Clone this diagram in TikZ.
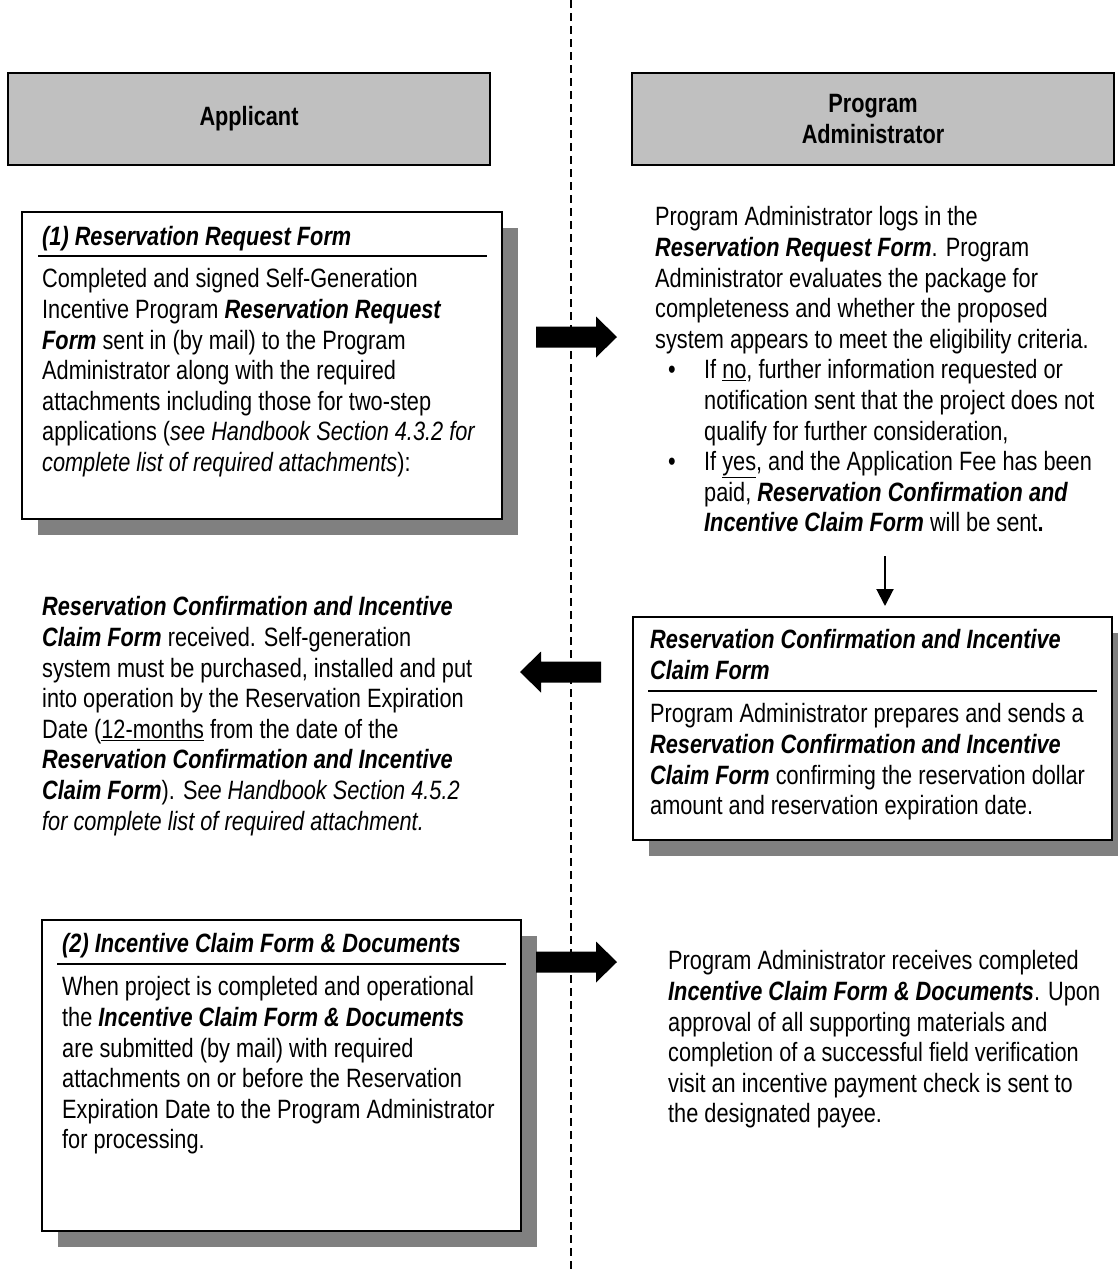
\documentclass[tikz,border=0pt]{standalone}
\usepackage{fontspec}
\setmainfont{Liberation Sans}[FakeStretch=0.82]
\usetikzlibrary{positioning}
\usetikzlibrary{arrows.meta}
\usetikzlibrary{shadows}
\definecolor{hdrgray}{RGB}{192,192,192}
\definecolor{shadowgray}{RGB}{128,128,128}
\newcommand{\bi}[1]{\textbf{\textit{#1}}}
\newcommand{\bul}{\makebox[49pt][l]{\hspace*{13pt}\textbullet}}
\newcommand{\ind}{\hspace*{49pt}}

\begin{document}
\begin{tikzpicture}[x=1pt,y={(0pt,-1pt)},
    hdr/.style={draw, line width=1.5pt, fill=hdrgray, align=center,
        font=\fontsize{26.5}{30.6}\selectfont\bfseries,
        minimum width=482pt, minimum height=92pt, inner sep=0pt},
    card/.style={draw, line width=1.5pt, fill=white, anchor=north west, inner sep=0pt,
        drop shadow={shadow xshift=16pt, shadow yshift=-16pt, fill=shadowgray, opacity=1}},
    txt/.style={anchor=north west, align=left, inner sep=0pt,
        font=\fontsize{26.5}{30.6}\selectfont},
    ttl/.style={txt, font=\fontsize{26.5}{30.6}\selectfont\bfseries\itshape},
    rulebar/.style={line width=1.8pt},
    lane/.style={line width=2.2pt, dash pattern=on 8pt off 5pt},
    thinarr/.style={line width=2pt, -{Triangle[width=17pt,length=17pt]}},
    fatright/.pic={\fill (0,-10.5) -- (60,-10.5) -- (60,-20.5) -- (81,0)
        -- (60,20.5) -- (60,10.5) -- (0,10.5) -- cycle;}]
        \useasboundingbox (0,0) rectangle (1118,1270);
        % lane divider %
        \draw[lane] (571,0) -- (571,1270);
        % headers %
        \node[hdr] (applicant) at (249,119) {Applicant};
        \node[hdr] (admin) at (873,119) {Program\\Administrator};
        % (1) request form %
        \node[card, minimum width=480pt, minimum height=307pt] (req) at (21,211) {};
        \node[ttl] (reqttl) at (42,226.5) {(1) Reservation Request Form};
        \draw[rulebar] ([shift={(17pt,-45pt)}]req.north west) -- ([shift={(-16pt,-45pt)}]req.north east);
        \node[txt] (reqtxt) at (42,268.5) {Completed and signed Self-Generation\\
            Incentive Program \bi{Reservation Request}\\
            \bi{Form} sent in (by mail) to the Program\\
            Administrator along with the required\\
            attachments including those for two-step\\
            applications (\textit{see Handbook Section 4.3.2 for}\\
            \textit{complete list of required attachments}):};
        % administrator review %
        \node[txt] (review) at (655,206.5) {Program Administrator logs in the\\
            \bi{Reservation Request Form}.  Program\\
            Administrator evaluates the package for\\
            completeness and whether the proposed\\
            system appears to meet the eligibility criteria.\\
            \bul If \underline{no}, further information requested or\\
            \ind notification sent that the project does not\\
            \ind qualify for further consideration,\\
            \bul If \underline{yes}, and the Application Fee has been\\
            \ind paid, \bi{Reservation Confirmation and}\\
            \ind \bi{Incentive Claim Form} will be sent\textbf{.}};
        % confirmation form %
        \node[card, minimum width=479pt, minimum height=223pt] (conf) at (632,616) {};
        \node[ttl] (confttl) at (650,629.5) {Reservation Confirmation and Incentive\\Claim Form};
        \draw[rulebar] ([shift={(16pt,-75pt)}]conf.north west) -- ([shift={(-16pt,-75pt)}]conf.north east);
        \node[txt] (conftxt) at (650,703.5) {Program Administrator prepares and sends a\\
            \bi{Reservation Confirmation and Incentive}\\
            \bi{Claim Form} confirming the reservation dollar\\
            amount and reservation expiration date.};
        % applicant receives %
        \node[txt] (received) at (42,596.5) {\bi{Reservation Confirmation and Incentive}\\
            \bi{Claim Form} received.  Self-generation\\
            system must be purchased, installed and put\\
            into operation by the Reservation Expiration\\
            Date (\underline{12-months} from the date of the\\
            \bi{Reservation Confirmation and Incentive}\\
            \bi{Claim Form}).  S\textit{ee Handbook Section 4.5.2}\\
            \textit{for complete list of required attachment.}};
        % (2) claim form %
        \node[card, minimum width=479pt, minimum height=311pt] (claim) at (41,919) {};
        \node[ttl] (claimttl) at (62,933.5) {(2) Incentive Claim Form \& Documents};
        \draw[rulebar] ([shift={(16pt,-45pt)}]claim.north west) -- ([shift={(-16pt,-45pt)}]claim.north east);
        \node[txt] (claimtxt) at (62,976.5) {When project is completed and operational\\
            the \bi{Incentive Claim Form \& Documents}\\
            are submitted (by mail) with required\\
            attachments on or before the Reservation\\
            Expiration Date to the Program Administrator\\
            for processing.};
        % payment %
        \node[txt] (payment) at (668,950.5) {Program Administrator receives completed\\
            \bi{Incentive Claim Form \& Documents}.  Upon\\
            approval of all supporting materials and\\
            completion of a successful field verification\\
            visit an incentive payment check is sent to\\
            the designated payee.};
        % arrows %
        \pic at (536,337) {fatright};
        \pic[xscale=-1] at (601,672) {fatright};
        \pic at (536,962) {fatright};
        \coordinate (dntail) at (885,556);
        \draw[thinarr, shorten >=10pt] (dntail) -- (dntail |- conf.north);
\end{tikzpicture}
\end{document}
